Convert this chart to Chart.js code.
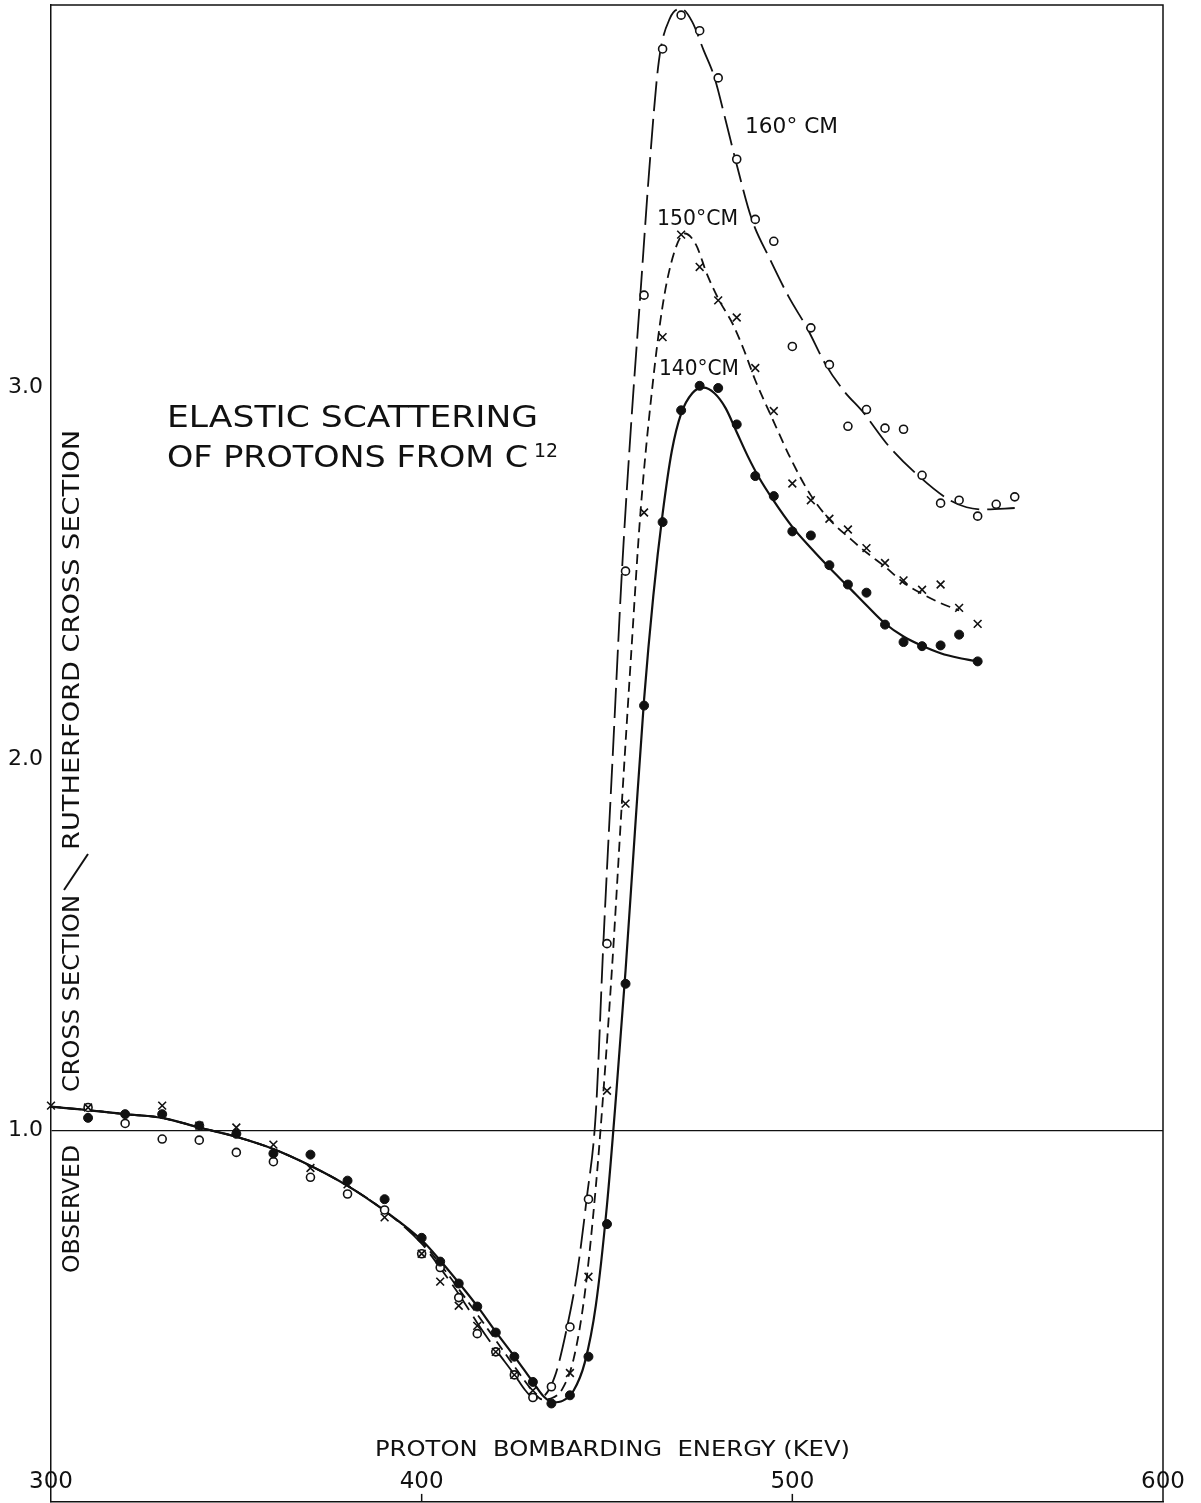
<!DOCTYPE html>
<html>
<head>
<meta charset="utf-8">
<title>Elastic scattering of protons from C12</title>
<script src="https://cdn.jsdelivr.net/npm/chart.js@4.4.1/dist/chart.umd.min.js"></script>
<style>
  html, body { margin: 0; padding: 0; background: #fff; overflow: hidden; }
  /* the frame runs to the very edge of the page, so the canvas is a little taller */
  #wrap { width: 1201px; height: 1511px; position: absolute; left: 0; top: -2px; }
</style>
</head>
<body>
<div id="wrap"><canvas id="scatterChart"></canvas></div>
<script>
// Measured points, proton energy (keV) vs observed / Rutherford cross section
// 140 deg CM, filled dots
const e140 = [310, 320, 330, 340, 350, 360, 370, 380, 390, 400, 405, 410, 415, 420, 425, 430, 435, 440, 445, 450,
              455, 460, 465, 470, 475, 480, 485, 490, 495, 500, 505, 510, 515, 520, 525, 530, 535, 540, 545, 550];
const r140 = [1.034, 1.044, 1.044, 1.013, 0.991, 0.938, 0.935, 0.865, 0.815, 0.711, 0.647, 0.588, 0.526, 0.456, 0.391, 0.323, 0.265, 0.287, 0.391, 0.748,
              1.395, 2.144, 2.638, 2.939, 3.005, 2.999, 2.901, 2.762, 2.708, 2.613, 2.602, 2.522, 2.470, 2.448, 2.362, 2.315, 2.304, 2.306, 2.335, 2.263];

// 150 deg CM, crosses
const e150 = [300, 310, 330, 340, 350, 360, 370, 380, 390, 400, 405, 410, 415, 420, 425, 430, 440, 445, 450, 455,
              460, 465, 470, 475, 480, 485, 490, 495, 500, 505, 510, 515, 520, 525, 530, 535, 540, 545, 550];
const r150 = [1.067, 1.062, 1.067, 1.013, 1.008, 0.962, 0.899, 0.855, 0.766, 0.668, 0.593, 0.528, 0.474, 0.404, 0.342, 0.300, 0.347, 0.606, 1.107, 1.880,
              2.664, 3.136, 3.412, 3.325, 3.235, 3.189, 3.053, 2.937, 2.742, 2.697, 2.647, 2.618, 2.568, 2.528, 2.481, 2.456, 2.470, 2.407, 2.364];

// 160 deg CM, open circles
const e160 = [310, 320, 330, 340, 350, 360, 370, 380, 390, 400, 405, 410, 415, 420, 425, 430, 435, 440, 445, 450, 455,
              460, 465, 470, 475, 480, 485, 490, 495, 500, 505, 510, 515, 520, 525, 530, 535, 540, 545, 550, 555, 560];
const r160 = [1.062, 1.019, 0.977, 0.974, 0.941, 0.916, 0.874, 0.829, 0.786, 0.668, 0.631, 0.550, 0.453, 0.404, 0.342, 0.281, 0.310, 0.471, 0.815, 1.503, 2.506,
              3.249, 3.912, 4.003, 3.961, 3.834, 3.615, 3.453, 3.394, 3.111, 3.161, 3.062, 2.896, 2.941, 2.891, 2.888, 2.764, 2.689, 2.697, 2.654, 2.686, 2.706];

// Hand drawn curves
const fitE140 = [300, 310, 320, 330, 340, 350, 360, 370, 380, 390, 400, 405, 410, 415, 420, 425, 430, 433, 435.5, 438, 441, 444, 447,
                 450, 452.5, 455, 457.5, 460, 462.5, 465, 467.5, 470, 473, 476, 479, 482, 485, 488, 491,
                 495, 500, 505, 510, 515, 520, 525, 530, 535, 540, 545, 550];
const fitR140 = [1.064, 1.055, 1.044, 1.034, 1.008, 0.983, 0.950, 0.905, 0.851, 0.784, 0.705, 0.650, 0.590, 0.527, 0.458, 0.392, 0.323, 0.283, 0.268, 0.272, 0.300, 0.375, 0.530,
                 0.800, 1.100, 1.430, 1.800, 2.160, 2.440, 2.660, 2.830, 2.930, 2.985, 3.000, 2.985, 2.945, 2.880, 2.815, 2.758,
                 2.695, 2.625, 2.568, 2.515, 2.465, 2.414, 2.365, 2.330, 2.305, 2.285, 2.272, 2.263];

const fitE150 = [300, 310, 320, 330, 340, 350, 360, 370, 380, 390, 400, 405, 410, 415, 420, 425, 430, 432.5, 435, 438, 441, 444, 447,
                 449, 451.5, 454, 456.5, 459, 462, 465, 468, 471, 474, 477, 480, 484, 487, 490, 494,
                 500, 505, 510, 516, 520, 525, 530, 535, 540, 545];
const fitR150 = [1.064, 1.055, 1.044, 1.034, 1.008, 0.983, 0.950, 0.905, 0.851, 0.784, 0.700, 0.640, 0.573, 0.505, 0.435, 0.365, 0.298, 0.276, 0.279, 0.305, 0.385, 0.560, 0.850,
                 1.100, 1.460, 1.880, 2.280, 2.660, 2.980, 3.220, 3.360, 3.415, 3.385, 3.305, 3.240, 3.170, 3.100, 3.020, 2.930,
                 2.800, 2.710, 2.645, 2.590, 2.556, 2.518, 2.475, 2.445, 2.420, 2.400];

const fitE160 = [300, 310, 320, 330, 340, 350, 360, 370, 380, 390, 400, 405, 410, 415, 420, 425, 428, 430.5, 433, 436, 439, 442, 444.5, 447,
                 449, 451.5, 454, 456.5, 459, 461.5, 464, 467, 470, 473, 476, 479, 482, 485, 489, 494, 499, 504, 509,
                 514, 519, 526, 534, 542, 547, 552, 560];
const fitR160 = [1.064, 1.055, 1.044, 1.034, 1.008, 0.983, 0.950, 0.905, 0.851, 0.784, 0.695, 0.630, 0.560, 0.482, 0.410, 0.343, 0.300, 0.278, 0.285, 0.340, 0.460, 0.620, 0.815, 1.050,
                 1.500, 2.000, 2.500, 2.900, 3.250, 3.600, 3.880, 3.995, 4.020, 3.985, 3.910, 3.835, 3.720, 3.600, 3.455, 3.345, 3.245, 3.160, 3.062,
                 2.990, 2.935, 2.843, 2.763, 2.700, 2.678, 2.672, 2.676];

// Axes
const xTickValues = [300, 400, 500, 600];
const xTickLabels = ['300', '400', '500', '600'];
const yTickValues = [1, 2, 3];
const curveNames = ['160° CM', '150°CM', '140°CM'];

const ink = '#111';
const FONT = '"DejaVu Sans", "Liberation Sans", sans-serif';
const PAGE_TOP = 2; // canvas starts 2px above the page

const toPoints = (xs, ys) => xs.map((x, i) => ({ x: x, y: ys[i] }));

// lettering is wide, so stretch the text to the measured width
function wideText(ctx, text, x, y, width) {
    const natural = ctx.measureText(text).width;
    ctx.save();
    ctx.translate(x, y);
    ctx.scale(width / natural, 1);
    ctx.fillText(text, 0, 0);
    ctx.restore();
}

// text going upwards from yStart to yEnd, centred on cx
function verticalText(ctx, text, cx, yStart, yEnd) {
    ctx.save();
    ctx.translate(cx, yStart);
    ctx.rotate(-Math.PI / 2);
    ctx.textBaseline = 'middle';
    wideText(ctx, text, 0, 0, yStart - yEnd);
    ctx.restore();
}

const paperText = {
    id: 'paperText',
    afterDraw(chart) {
        const { ctx, chartArea, scales: { x } } = chart;
        ctx.save();
        ctx.fillStyle = ink;
        ctx.strokeStyle = ink;
        ctx.textAlign = 'left';
        ctx.textBaseline = 'alphabetic';

        // frame top and right
        ctx.lineWidth = 1.5;
        ctx.beginPath();
        ctx.moveTo(chartArea.left, chartArea.top);
        ctx.lineTo(chartArea.right, chartArea.top);
        ctx.lineTo(chartArea.right, chartArea.bottom);
        ctx.stroke();

        // x tick labels sit inside the frame, small ticks point up
        ctx.font = '23px ' + FONT;
        ctx.textAlign = 'center';
        xTickValues.forEach((v, i) => {
            const px = x.getPixelForValue(v);
            ctx.fillText(xTickLabels[i], px, chartArea.bottom - 14);
            if (i > 0 && i < xTickValues.length - 1) {
                ctx.lineWidth = 1.5;
                ctx.beginPath();
                ctx.moveTo(px, chartArea.bottom);
                ctx.lineTo(px, chartArea.bottom - 8);
                ctx.stroke();
            }
        });
        ctx.textAlign = 'left';

        // everything below is placed in page pixels
        ctx.translate(0, PAGE_TOP);

        // x axis title
        ctx.font = '22px ' + FONT;
        wideText(ctx, 'PROTON  BOMBARDING  ENERGY (KEV)', 375, 1456, 475);

        // y axis title, bottom to top
        ctx.font = '23px ' + FONT;
        verticalText(ctx, 'OBSERVED', 73, 1273, 1145);
        verticalText(ctx, 'CROSS SECTION', 73, 1092, 895);
        verticalText(ctx, 'RUTHERFORD CROSS SECTION', 73, 850, 430);
        ctx.lineWidth = 2;
        ctx.beginPath();
        ctx.moveTo(64, 890);
        ctx.lineTo(88, 854);
        ctx.stroke();

        // title
        ctx.font = '30px ' + FONT;
        wideText(ctx, 'ELASTIC SCATTERING', 167, 427, 371);
        wideText(ctx, 'OF PROTONS FROM C', 167, 467, 361);
        ctx.font = '19px ' + FONT;
        wideText(ctx, '12', 534, 457, 24);

        // curve labels
        ctx.font = '22px ' + FONT;
        wideText(ctx, curveNames[0], 745, 133, 93);
        wideText(ctx, curveNames[1], 657, 225, 81);
        wideText(ctx, curveNames[2], 659, 375, 80);

        ctx.restore();
    }
};

const curve = (xs, ys, dash, width) => ({
    data: toPoints(xs, ys),
    showLine: true,
    borderColor: ink,
    borderWidth: width,
    borderDash: dash,
    pointRadius: 0,
    cubicInterpolationMode: 'monotone',
    tension: 0.4,
    fill: false,
    order: 10
});

// no extra room for the end labels, the frame fills the page
const noScalePadding = scale => {
    scale.paddingTop = 0;
    scale.paddingBottom = 0;
    scale.paddingLeft = 0;
    scale.paddingRight = 0;
};

const ctx = document.getElementById('scatterChart').getContext('2d');
const scatterChart = new Chart(ctx, {
    type: 'scatter',
    data: {
        datasets: [
            curve(fitE160, fitR160, [30, 8], 1.8),
            curve(fitE150, fitR150, [10, 6], 1.8),
            curve(fitE140, fitR140, [], 2.2),
            {
                label: '160° CM',
                data: toPoints(e160, r160),
                pointStyle: 'circle',
                pointRadius: 4,
                borderWidth: 1.6,
                borderColor: ink,
                backgroundColor: '#fff',
                clip: 8,
                order: 3
            },
            {
                label: '140° CM',
                data: toPoints(e140, r140),
                pointStyle: 'circle',
                pointRadius: 4.5,
                borderWidth: 1,
                borderColor: ink,
                backgroundColor: ink,
                clip: 8,
                order: 2
            },
            {
                label: '150° CM',
                data: toPoints(e150, r150),
                pointStyle: 'crossRot',
                pointRadius: 5.5,
                borderWidth: 1.6,
                borderColor: ink,
                clip: 8,
                order: 1
            }
        ]
    },
    options: {
        responsive: true,
        maintainAspectRatio: false,
        animation: false,
        events: [],
        layout: { padding: { left: 0, right: 38, top: 3, bottom: 0 } },
        plugins: {
            legend: { display: false },
            tooltip: { enabled: false }
        },
        scales: {
            x: {
                type: 'linear',
                min: 300,
                max: 600,
                afterBuildTicks: scale => { scale.ticks = xTickValues.map(v => ({ value: v })); },
                afterFit: scale => { scale.height = 0; noScalePadding(scale); },
                ticks: { display: false },
                grid: { display: false, drawTicks: false },
                border: { display: true, color: ink, width: 1.5 }
            },
            y: {
                type: 'linear',
                min: 0,
                max: 4.03,
                afterBuildTicks: scale => { scale.ticks = yTickValues.map(v => ({ value: v })); },
                afterFit: scale => { scale.width = 51; noScalePadding(scale); },
                ticks: {
                    color: ink,
                    padding: 8,
                    font: { family: FONT, size: 22 },
                    callback: v => v.toFixed(1)
                },
                grid: {
                    drawTicks: false,
                    lineWidth: 1.3,
                    color: c => (c.tick && c.tick.value === 1 ? ink : 'rgba(0,0,0,0)')
                },
                border: { display: true, color: ink, width: 1.5 }
            }
        }
    },
    plugins: [paperText]
});
</script>
</body>
</html>
